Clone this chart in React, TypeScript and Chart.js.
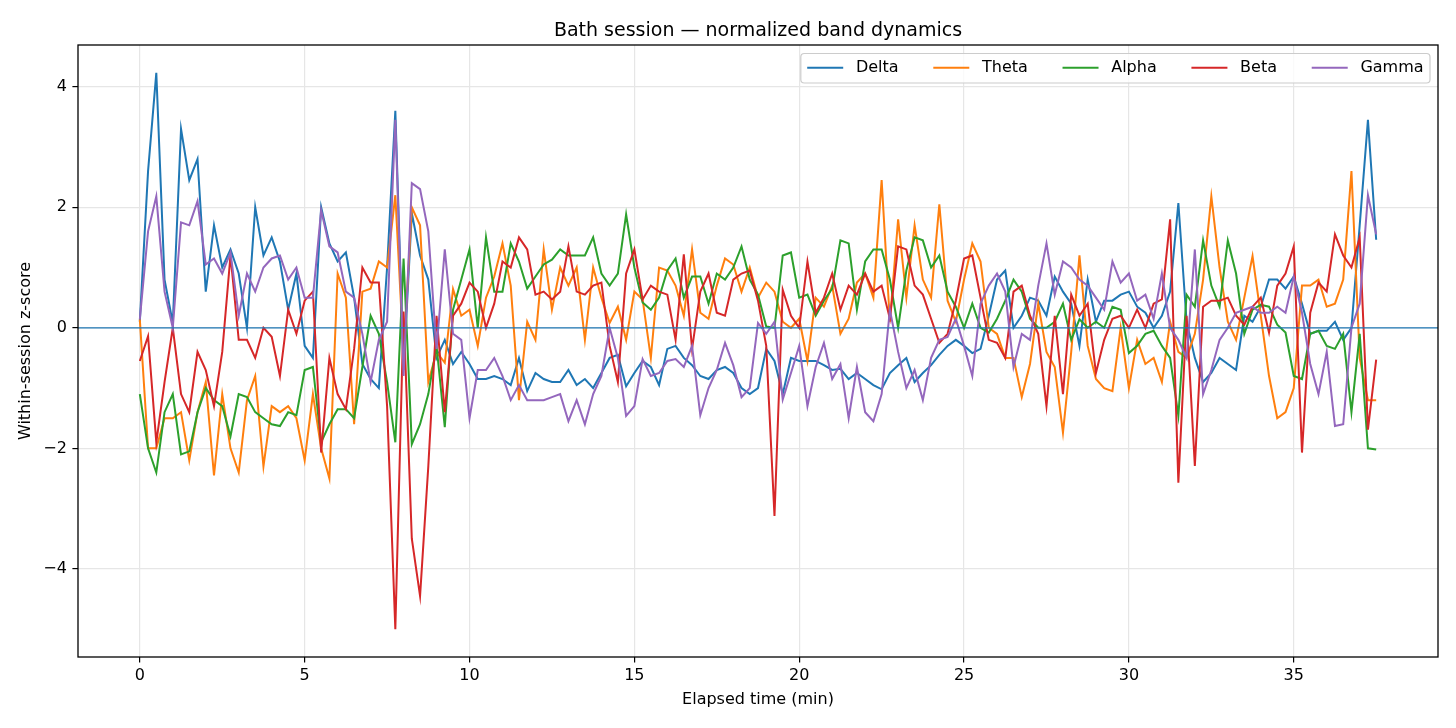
import React, { useEffect, useRef } from "react";
import { Chart, registerables } from "chart.js";

Chart.register(...registerables);

// ---------------- data ----------------
const SAMPLE_STEP_MIN = 0.25; // one sample every quarter minute

const bandLabels = ["Delta", "Theta", "Alpha", "Beta", "Gamma"];
const bandColors = ["#1f77b4", "#ff7f0e", "#2ca02c", "#d62728", "#9467bd"];

const delta = [
  0.1, 2.6, 4.23, 0.8, 0.08, 3.3, 2.45, 2.8, 0.6, 1.7, 1.0, 1.3, 0.9, 0.0, 2.0, 1.2, 1.5, 1.1, 0.3, 0.9,
  -0.3, -0.5, 2.0, 1.4, 1.1, 1.25, 0.5, -0.6, -0.85, -1.0, 1.0, 3.6, -0.7, 1.9, 1.2, 0.8, -0.5, -0.2, -0.6, -0.4,
  -0.6, -0.85, -0.85, -0.8, -0.85, -0.95, -0.5, -1.05, -0.75, -0.85, -0.9, -0.9, -0.7, -0.95, -0.85, -1.0, -0.75, -0.5, -0.45, -0.97,
  -0.75, -0.55, -0.65, -0.95, -0.35, -0.3, -0.5, -0.62, -0.8, -0.85, -0.7, -0.65, -0.75, -1.0, -1.1, -1.0, -0.35, -0.55, -1.1, -0.5,
  -0.55, -0.55, -0.55, -0.62, -0.7, -0.68, -0.85, -0.75, -0.85, -0.95, -1.02, -0.75, -0.62, -0.5, -0.9, -0.75, -0.62, -0.45, -0.3, -0.2,
  -0.3, -0.42, -0.35, 0.2, 0.8, 0.95, 0.0, 0.2, 0.5, 0.45, 0.2, 0.85, 0.6, 0.4, -0.3, 0.8, 0.1, 0.45, 0.45, 0.55,
  0.6, 0.35, 0.25, 0.0, 0.2, 0.6, 2.07, 0.1, -0.5, -0.9, -0.75, -0.5, -0.6, -0.7, 0.2, 0.1, 0.35, 0.8, 0.8, 0.65,
  0.85, 0.4, -0.1, -0.05, -0.05, 0.1, -0.2, 0.0, 1.7, 3.45, 1.46,
];

const theta = [
  0.14, -2.0, -2.0, -1.5, -1.5, -1.4, -2.2, -1.4, -0.9, -2.45, -1.1, -2.0, -2.4, -1.2, -0.8, -2.3, -1.3, -1.4, -1.3, -1.5,
  -2.2, -1.1, -2.0, -2.5, 0.9, 0.5, -1.6, 0.6, 0.65, 1.1, 1.0, 2.2, -0.45, 2.0, 1.7, -0.9, -0.4, -0.58, 0.64, 0.2,
  0.3, -0.3, 0.5, 0.85, 1.4, 0.7, -1.2, 0.1, -0.2, 1.3, 0.3, 1.0, 0.7, 1.0, -0.2, 1.0, 0.5, 0.08, 0.35, -0.2,
  0.6, 0.47, -0.5, 1.0, 0.95, 0.7, 0.2, 1.3, 0.25, 0.15, 0.7, 1.15, 1.05, 0.6, 1.0, 0.5, 0.75, 0.6, 0.1, 0.0,
  0.15, -0.55, 0.5, 0.35, 0.7, -0.1, 0.15, 0.75, 0.9, 0.5, 2.45, 0.1, 1.8, 0.5, 1.7, 0.8, 0.5, 2.05, 0.45, 0.1,
  0.8, 1.4, 1.1, 0.0, -0.1, -0.5, -0.5, -1.15, -0.6, 0.4, -0.4, -0.65, -1.74, -0.4, 1.2, -0.3, -0.85, -1.0, -1.05, 0.0,
  -1.0, -0.2, -0.6, -0.5, -0.9, 0.1, -0.4, -0.5, -0.1, 0.8, 2.18, 1.0, 0.1, -0.2, 0.5, 1.19, 0.2, -0.8, -1.5, -1.4,
  -1.0, 0.7, 0.7, 0.8, 0.35, 0.4, 0.8, 2.6, -0.5, -1.2, -1.2,
];

const alpha = [
  -1.1, -2.0, -2.4, -1.4, -1.1, -2.1, -2.05, -1.4, -1.0, -1.2, -1.3, -1.8, -1.1, -1.15, -1.4, -1.5, -1.6, -1.63, -1.4, -1.45,
  -0.7, -0.65, -1.9, -1.6, -1.35, -1.35, -1.5, -0.65, 0.2, -0.1, -0.9, -1.9, 1.15, -1.93, -1.6, -1.1, -0.3, -1.65, 0.3, 0.8,
  1.3, 0.0, 1.5, 0.6, 0.6, 1.4, 1.1, 0.65, 0.85, 1.05, 1.13, 1.3, 1.2, 1.2, 1.2, 1.5, 0.9, 0.7, 0.9, 1.88,
  1.0, 0.42, 0.3, 0.5, 0.95, 1.15, 0.5, 0.85, 0.85, 0.4, 0.9, 0.8, 1.0, 1.35, 0.8, 0.55, 0.02, 0.0, 1.2, 1.25,
  0.5, 0.55, 0.2, 0.45, 0.65, 1.45, 1.4, 0.3, 1.1, 1.3, 1.3, 0.8, 0.0, 0.95, 1.5, 1.45, 1.0, 1.2, 0.6, 0.35,
  0.0, 0.4, 0.0, -0.08, 0.15, 0.45, 0.8, 0.6, 0.15, 0.0, 0.0, 0.1, 0.4, -0.2, 0.14, 0.0, 0.1, 0.0, 0.35, 0.3,
  -0.42, -0.3, -0.1, -0.05, -0.3, -0.5, -1.46, 0.55, 0.35, 1.45, 0.7, 0.35, 1.45, 0.9, -0.1, 0.3, 0.38, 0.35, 0.05, -0.08,
  -0.8, -0.85, -0.1, -0.05, -0.3, -0.35, -0.1, -1.4, -0.1, -2.0, -2.02,
];

const beta = [
  -0.55, -0.14, -1.9, -0.9, 0.0, -1.1, -1.4, -0.4, -0.7, -1.3, -0.4, 1.2, -0.2, -0.2, -0.5, 0.0, -0.15, -0.8, 0.3, -0.1,
  0.45, 0.6, -2.07, -0.5, -1.1, -1.35, -0.35, 1.0, 0.75, 0.75, -1.3, -5.0, 0.27, -3.5, -4.45, -2.3, 0.2, -1.4, 0.2, 0.4,
  0.75, 0.6, 0.0, 0.4, 1.1, 1.0, 1.5, 1.3, 0.55, 0.6, 0.47, 0.6, 1.35, 0.6, 0.55, 0.7, 0.75, -0.3, -0.9, 0.9,
  1.3, 0.47, 0.7, 0.6, 0.55, -0.2, 1.22, -0.35, 0.6, 0.9, 0.25, 0.2, 0.8, 0.9, 0.95, 0.45, -0.3, -3.12, 0.63, 0.2,
  0.0, 1.1, 0.25, 0.5, 0.9, 0.3, 0.7, 0.55, 0.9, 0.6, 0.7, 0.15, 1.35, 1.3, 0.7, 0.55, 0.15, -0.25, -0.1, 0.45,
  1.15, 1.2, 0.5, -0.2, -0.25, -0.5, 0.6, 0.7, 0.2, -0.1, -1.3, 0.2, -1.1, 0.55, 0.2, 0.4, -0.75, -0.2, 0.15, 0.2,
  0.0, 0.3, 0.0, 0.4, 0.47, 1.8, -2.57, 0.2, -2.29, 0.35, 0.45, 0.45, 0.5, 0.2, 0.05, 0.35, 0.5, -0.08, 0.7, 0.9,
  1.35, -2.07, 0.25, 0.75, 0.6, 1.55, 1.2, 1.0, 1.5, -1.69, -0.53,
];

const gamma = [
  0.14, 1.6, 2.18, 0.6, 0.0, 1.75, 1.7, 2.1, 1.05, 1.15, 0.9, 1.25, 0.2, 0.9, 0.6, 1.0, 1.15, 1.2, 0.8, 1.0,
  0.5, 0.5, 1.95, 1.35, 1.25, 0.6, 0.5, -0.1, -0.9, -0.2, 0.1, 3.45, -0.8, 2.4, 2.3, 1.6, -0.35, 1.3, -0.1, -0.2,
  -1.5, -0.7, -0.7, -0.5, -0.8, -1.2, -0.95, -1.2, -1.2, -1.2, -1.15, -1.1, -1.55, -1.2, -1.6, -1.1, -0.8, 0.0, -0.5, -1.46,
  -1.3, -0.52, -0.8, -0.75, -0.55, -0.52, -0.65, -0.3, -1.45, -1.0, -0.7, -0.25, -0.62, -1.15, -1.0, 0.08, -0.1, 0.1, -1.19, -0.75,
  -0.3, -1.3, -0.65, -0.25, -0.85, -0.6, -1.5, -0.65, -1.4, -1.55, -1.1, 0.3, -0.4, -1.0, -0.7, -1.2, -0.5, -0.2, -0.15, 0.15,
  -0.3, -0.8, 0.4, 0.7, 0.9, 0.6, -0.65, -0.1, -0.2, 0.7, 1.4, 0.55, 1.1, 1.0, 0.8, 0.7, 0.5, 0.3, 1.1, 0.75,
  0.9, 0.45, 0.55, 0.15, 0.9, 0.0, -0.2, -0.5, 1.3, -1.1, -0.7, -0.2, 0.0, 0.25, 0.3, 0.35, 0.25, 0.25, 0.35, 0.25,
  0.85, 0.25, -0.6, -1.1, -0.4, -1.63, -1.6, 0.0, 0.4, 2.2, 1.55,
];

const bandSeries = [delta, theta, alpha, beta, gamma];

const xTicks = [0, 5, 10, 15, 20, 25, 30, 35];
const yTicks = [-4, -2, 0, 2, 4];
const ZERO_LINE = 0;

const chartTitle = "Bath session \u2014 normalized band dynamics";
const xAxisLabel = "Elapsed time (min)";
const yAxisLabel = "Within-session z-score";

// ---------------- derived ranges (matplotlib-like 5% margins) ----------------
const timeMin = delta.map((_, i) => i * SAMPLE_STEP_MIN);
const tLast = timeMin[timeMin.length - 1];
const allVals = bandSeries.flat();
const yLo = Math.min(...allVals);
const yHi = Math.max(...allVals);
const yMargin = (yHi - yLo) * 0.05;
const xMargin = tLast * 0.05;

const FONT = '"DejaVu Sans", "Liberation Sans", sans-serif';
const W = 1456;
const H = 728;
const AREA = { left: 78, right: 1438, top: 45, bottom: 657 };

const fmt = (v: number) => (v < 0 ? "\u2212" + Math.abs(v) : String(v));

const overlayPlugin = {
  id: "mplOverlay",
  afterDatasetsDraw(chart: any) {
    const { ctx, chartArea: a, scales } = chart;
    ctx.save();
    // zero reference line
    const y0 = scales.y.getPixelForValue(ZERO_LINE);
    ctx.strokeStyle = "#1f77b4";
    ctx.lineWidth = 1.3;
    ctx.beginPath();
    ctx.moveTo(a.left, y0);
    ctx.lineTo(a.right, y0);
    ctx.stroke();
    // spines
    ctx.strokeStyle = "#000";
    ctx.lineWidth = 1.3;
    ctx.strokeRect(a.left, a.top, a.right - a.left, a.bottom - a.top);

    // legend (upper right, one row)
    ctx.font = `16px ${FONT}`;
    const handleLen = 36;
    const handleGap = 12.7;
    const colGap = 34.7;
    const pad = 6.4;
    const ds = chart.data.datasets;
    const widths = ds.map((d: any) => ctx.measureText(d.label).width);
    let total = pad * 2 + colGap * (ds.length - 1);
    widths.forEach((w: number) => (total += handleLen + handleGap + w));
    const boxH = 29.5;
    const right = a.right - 8;
    const left = right - total;
    const top = a.top + 8.5;
    ctx.beginPath();
    (ctx as any).roundRect(left, top, total, boxH, 3.5);
    ctx.fillStyle = "rgba(255,255,255,0.8)";
    ctx.fill();
    ctx.strokeStyle = "#cccccc";
    ctx.lineWidth = 1.2;
    ctx.stroke();
    const cy = top + boxH / 2;
    let x = left + pad;
    ds.forEach((d: any, i: number) => {
      ctx.strokeStyle = d.borderColor;
      ctx.lineWidth = 2.2;
      ctx.beginPath();
      ctx.moveTo(x, cy - 0.5);
      ctx.lineTo(x + handleLen, cy - 0.5);
      ctx.stroke();
      ctx.fillStyle = "#000";
      ctx.textAlign = "left";
      ctx.textBaseline = "middle";
      ctx.fillText(d.label, x + handleLen + handleGap, cy);
      x += handleLen + handleGap + widths[i] + colGap;
    });
    ctx.restore();
  },
  afterDraw(chart: any) {
    const { ctx, chartArea: a } = chart;
    ctx.save();
    ctx.fillStyle = "#000";
    ctx.textAlign = "center";
    ctx.font = `19px ${FONT}`;
    ctx.textBaseline = "alphabetic";
    ctx.fillText(chartTitle, (a.left + a.right) / 2, a.top - 9.5);
    ctx.font = `16px ${FONT}`;
    ctx.textBaseline = "middle";
    ctx.fillText(xAxisLabel, (a.left + a.right) / 2, 700);
    ctx.translate(26, (a.top + a.bottom) / 2);
    ctx.rotate(-Math.PI / 2);
    ctx.fillText(yAxisLabel, 0, 0);
    ctx.restore();
  },
};

export default function App() {
  const canvasRef = useRef<HTMLCanvasElement>(null);

  useEffect(() => {
    const canvas = canvasRef.current;
    if (!canvas) return;
    const datasets = bandSeries.map((series, i) => ({
      label: bandLabels[i],
      data: series.map((v, k) => ({ x: timeMin[k], y: v })),
      borderColor: bandColors[i],
      backgroundColor: bandColors[i],
      borderWidth: 2,
      pointRadius: 0,
      tension: 0,
      fill: false,
      order: bandSeries.length - i,
    }));

    const chart = new Chart(canvas, {
      type: "line",
      data: { datasets },
      plugins: [overlayPlugin],
      options: {
        animation: false,
        responsive: false,
        maintainAspectRatio: false,
        layout: {
          padding: { left: 0, top: AREA.top, right: W - AREA.right, bottom: 0 },
        },
        plugins: {
          legend: { display: false },
          title: { display: false },
          tooltip: { enabled: false },
        },
        scales: {
          x: {
            type: "linear",
            min: -xMargin,
            max: tLast + xMargin,
            afterFit: (scale: any) => {
              scale.height = H - AREA.bottom;
            },
            afterBuildTicks: (scale: any) => {
              scale.ticks = xTicks.map((value) => ({ value }));
            },
            border: { display: false },
            grid: {
              color: "#e6e6e6",
              lineWidth: 1.2,
              drawTicks: true,
              tickLength: 5.6,
              tickColor: "#000",
              tickWidth: 1.2,
            },
            ticks: {
              color: "#000",
              padding: 4,
              maxRotation: 0,
              autoSkip: false,
              font: { family: FONT, size: 16 },
              callback: (v: any) => fmt(Number(v)),
            },
          },
          y: {
            type: "linear",
            min: yLo - yMargin,
            max: yHi + yMargin,
            afterFit: (scale: any) => {
              scale.width = AREA.left;
            },
            afterBuildTicks: (scale: any) => {
              scale.ticks = yTicks.map((value) => ({ value }));
            },
            border: { display: false },
            grid: {
              color: "#e6e6e6",
              lineWidth: 1.2,
              drawTicks: true,
              tickLength: 5.6,
              tickColor: "#000",
              tickWidth: 1.2,
            },
            ticks: {
              color: "#000",
              padding: 5.5,
              autoSkip: false,
              font: { family: FONT, size: 16 },
              callback: (v: any) => fmt(Number(v)),
            },
          },
        },
      } as any,
    });
    return () => chart.destroy();
  }, []);

  return (
    <div style={{ position: "absolute", left: 0, top: 0, width: W, height: H, background: "#fff" }}>
      <canvas ref={canvasRef} width={W} height={H} style={{ display: "block", width: W, height: H }} />
    </div>
  );
}
